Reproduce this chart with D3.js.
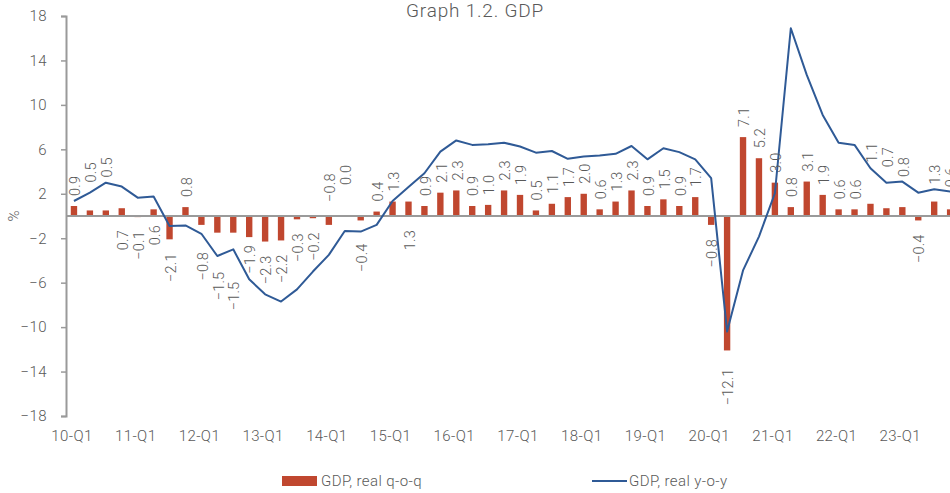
<!DOCTYPE html>
<html>
<head>
<meta charset="utf-8">
<script src="https://cdn.jsdelivr.net/npm/d3@7"></script>
<style>
  html, body { margin: 0; padding: 0; background: #fff; }
  svg { display: block; font-family: Roboto, "Noto Sans", sans-serif; }
</style>
</head>
<body>
<svg id="chart" width="950" height="493"></svg>
<script>
// ---------- DATA ----------
const quarters = [];
for (let yr = 10; yr <= 23; yr++) for (let q = 1; q <= 4; q++) quarters.push(yr + "-Q" + q);

const qoq = [0.9, 0.5, 0.5, 0.7, -0.1, 0.6, -2.1, 0.8,
             -0.8, -1.5, -1.5, -1.9, -2.3, -2.2, -0.3, -0.2,
             -0.8, 0.0, -0.4, 0.4, 1.3, 1.3, 0.9, 2.1,
             2.3, 0.9, 1.0, 2.3, 1.9, 0.5, 1.1, 1.7,
             2.0, 0.6, 1.3, 2.3, 0.9, 1.5, 0.9, 1.7,
             -0.8, -12.1, 7.1, 5.2, 3.0, 0.8, 3.1, 1.9,
             0.6, 0.6, 1.1, 0.7, 0.8, -0.4, 1.3, 0.6];

const yoy = [1.35, 2.1, 3.0, 2.65, 1.65, 1.75, -0.9, -0.85,
             -1.6, -3.6, -3.0, -5.7, -7.05, -7.7, -6.6, -5.0,
             -3.5, -1.35, -1.4, -0.8, 1.35, 2.6, 3.85, 5.8,
             6.8, 6.4, 6.45, 6.6, 6.25, 5.7, 5.85, 5.15,
             5.35, 5.45, 5.6, 6.3, 5.1, 6.1, 5.75, 5.1,
             3.4, -10.4, -4.9, -1.85, 2.05, 16.9, 12.7, 9.1,
             6.6, 6.4, 4.3, 3.0, 3.1, 2.1, 2.4, 2.2];

const yTicks = [-18, -14, -10, -6, -2, 2, 6, 10, 14, 18];
const xTickLabels = quarters.filter(q => q.endsWith("Q1"));
const seriesNames = ["GDP, real q-o-q", "GDP, real y-o-y"];
const title = "Graph 1.2. GDP";

// ---------- LAYOUT ----------
const W = 950, H = 493;
const mLeft = 66, mTop = 16, mBottom = 416;
const step = 15.93;
const mRight = mLeft + step * quarters.length;
const textColor = "#595959", axisColor = "#9a9a9a";
const barColor = "#c0472f", lineColor = "#2f5a96";
const fs = 15, ls = 0.4;

const svg = d3.select("#chart");

const x = d3.scaleBand().domain(quarters).range([mLeft, mRight]).paddingInner(0.6).paddingOuter(0.3);
const y = d3.scaleLinear().domain([-18, 18]).range([mBottom, mTop]);
const cx = d => x(d) + x.bandwidth() / 2;

// title
svg.append("text").attr("x", 475).attr("y", 17).attr("text-anchor", "middle")
  .attr("fill", textColor).attr("font-size", 19).attr("letter-spacing", 0.8).attr("font-weight", 300).text(title);

// y axis
const yAxis = d3.axisLeft(y).tickValues(yTicks).tickSize(5).tickPadding(14).tickFormat(d3.format("d"));
const gy = svg.append("g").attr("transform", `translate(${mLeft},0)`).call(yAxis);
gy.select(".domain").attr("stroke", axisColor).attr("stroke-width", 2);
gy.selectAll(".tick line").attr("stroke", axisColor).attr("stroke-width", 1.5);
gy.selectAll(".tick text").attr("fill", textColor).attr("font-size", fs).attr("letter-spacing", ls)
  .attr("font-weight", 300).attr("font-family", "Roboto, sans-serif");

svg.append("text").attr("transform", `translate(19,${y(0)}) rotate(-90)`)
  .attr("text-anchor", "middle").attr("fill", textColor).attr("font-size", fs).attr("font-weight", 300).text("%");

// x labels
const xAxis = d3.axisBottom(x).tickValues(xTickLabels).tickSize(0).tickPadding(0);
const gx = svg.append("g").attr("transform", `translate(-2,${mBottom + 14})`).call(xAxis);
gx.select(".domain").remove();
gx.selectAll(".tick text").attr("fill", textColor).attr("font-size", fs).attr("letter-spacing", ls)
  .attr("font-weight", 300).attr("font-family", "Roboto, sans-serif");

// bars
svg.append("g").selectAll("rect").data(quarters).join("rect")
  .attr("x", d => x(d))
  .attr("width", x.bandwidth())
  .attr("y", (d, i) => y(Math.max(0, qoq[i])))
  .attr("height", (d, i) => Math.abs(y(qoq[i]) - y(0)))
  .attr("fill", barColor);

// zero line
svg.append("line").attr("x1", mLeft).attr("x2", W + 20).attr("y1", y(0)).attr("y2", y(0))
  .attr("stroke", axisColor).attr("stroke-width", 2);

// line
const line = d3.line().x((d, i) => cx(quarters[i])).y(d => y(d));
svg.append("path").datum(yoy).attr("d", line).attr("fill", "none")
  .attr("stroke", lineColor).attr("stroke-width", 2).attr("stroke-linejoin", "round");

// data labels (rotated); placement nudges to avoid overlapping the line
const nudge = {1: -18, 2: -23, 8: 13, 9: 25, 10: 35, 11: -6, 18: 9, 41: 4,
               50: -31, 51: -31, 52: -20, 54: -7, 55: -12};
const flip = {3: ["below", 14], 5: ["below", 9], 21: ["below", 14], 16: ["above", 14], 17: ["above", 31]};
const fmt = d3.format(".1f");
svg.append("g").selectAll("text").data(quarters).join("text")
  .each(function (d, i) {
    const v = qoq[i];
    let side, ay;
    if (flip[i]) {
      side = flip[i][0];
      ay = side === "above" ? y(0) - flip[i][1] : y(0) + flip[i][1];
    } else if (v >= 0) {
      side = "above"; ay = y(v) - 10;
    } else {
      side = "below"; ay = y(v) + 14;
    }
    ay += nudge[i] || 0;
    d3.select(this)
      .attr("transform", `translate(${cx(d) + 1},${ay}) rotate(-90)`)
      .attr("text-anchor", side === "above" ? "start" : "end")
      .attr("dy", "0.36em");
  })
  .attr("fill", textColor).attr("font-size", 14.5).attr("letter-spacing", 0.2).attr("font-weight", 300)
  .text((d, i) => fmt(qoq[i]));

// legend
const lg = svg.append("g");
lg.append("rect").attr("x", 282).attr("y", 476).attr("width", 35).attr("height", 10).attr("fill", barColor);
lg.append("text").attr("x", 321).attr("y", 481).attr("dy", "0.35em").attr("fill", textColor)
  .attr("font-size", fs).attr("letter-spacing", ls).attr("font-weight", 300).text(seriesNames[0]);
lg.append("line").attr("x1", 592).attr("x2", 627).attr("y1", 481).attr("y2", 481)
  .attr("stroke", lineColor).attr("stroke-width", 2);
lg.append("text").attr("x", 629).attr("y", 481).attr("dy", "0.35em").attr("fill", textColor)
  .attr("font-size", fs).attr("letter-spacing", ls).attr("font-weight", 300).text(seriesNames[1]);
</script>
</body>
</html>
